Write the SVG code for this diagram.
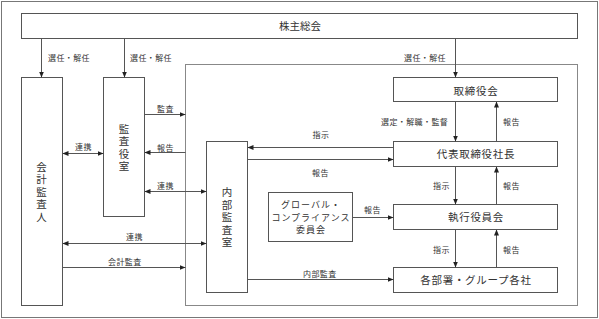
<svg xmlns="http://www.w3.org/2000/svg" width="599" height="319" viewBox="0 0 599 319">
<style>
.box{fill:#fff;stroke:#555;stroke-width:1}
.frame{fill:none;stroke:#777;stroke-width:1}
.inner{fill:none;stroke:#888;stroke-width:1}
.t{font-family:"Noto Sans CJK JP","Noto Sans CJK SC",sans-serif;fill:#333;font-size:10.5px;text-anchor:middle;letter-spacing:0.7px}
.v{font-family:"Noto Sans CJK JP","Noto Sans CJK SC",sans-serif;fill:#333;font-size:10.5px;text-anchor:middle;writing-mode:vertical-rl;letter-spacing:2px}
.s{font-family:"Noto Sans CJK JP","Noto Sans CJK SC",sans-serif;fill:#333;font-size:8px;letter-spacing:0.4px}
.g{font-family:"Noto Sans CJK JP","Noto Sans CJK SC",sans-serif;fill:#333;font-size:9px;text-anchor:middle;letter-spacing:1px}
.c line{stroke:#555;stroke-width:1;fill:none}
.a{marker-end:url(#ah)}
.d{marker-start:url(#ah);marker-end:url(#ah)}
</style>
<defs>
<marker id="ah" viewBox="0 0 6 6" refX="6" refY="3" markerWidth="6" markerHeight="6" markerUnits="userSpaceOnUse" orient="auto-start-reverse">
<path d="M0,0.5 L6,3 L0,5.5 z" fill="#222"/>
</marker>
</defs>
<rect width="599" height="319" fill="#fff"/>
<rect class="frame" x="1.5" y="1.5" width="596" height="316"/>
<rect class="inner" x="185.5" y="64.5" width="392" height="241"/>

<g id="kabunushi"><rect class="box" x="21.5" y="13.5" width="556" height="25"/><text class="t" x="300" y="30" style="letter-spacing:0">株主総会</text></g>
<g id="kaikei"><rect class="box" x="21.5" y="77.5" width="41" height="228"/>
<text class="v" x="41.5" y="192.7">会計監査人</text></g>
<g id="kansayaku"><rect class="box" x="103.5" y="77.5" width="41" height="139"/>
<text class="v" x="124" y="148.5">監査役室</text></g>
<g id="naibu"><rect class="box" x="206.5" y="141.5" width="41" height="151"/>
<text class="v" x="227" y="218.3">内部監査室</text></g>
<g id="gcc"><rect class="box" x="268.5" y="192.5" width="84" height="49"/>
<text class="g" x="311" y="208">グローバル・</text><text class="g" x="311" y="220.5">コンプライアンス</text><text class="g" x="311" y="233">委員会</text></g>
<g id="torishimariyaku"><rect class="box" x="393.5" y="77.5" width="164" height="24"/><text class="t" x="476" y="94.5">取締役会</text></g>
<g id="daihyo"><rect class="box" x="393.5" y="141.5" width="164" height="25"/><text class="t" x="476" y="158">代表取締役社長</text></g>
<g id="shikko"><rect class="box" x="393.5" y="204.5" width="164" height="25"/><text class="t" x="476" y="221">執行役員会</text></g>
<g id="kakubusho"><rect class="box" x="393.5" y="267.5" width="164" height="25"/><text class="t" x="476" y="284">各部署・グループ各社</text></g>

<g id="connectors" class="c">
<line class="a" x1="41.5" y1="38.5" x2="41.5" y2="77.5"/>
<line class="a" x1="124.5" y1="38.5" x2="124.5" y2="77.5"/>
<line class="a" x1="455.5" y1="38.5" x2="455.5" y2="77.5"/>
<line class="a" x1="455.5" y1="101.5" x2="455.5" y2="141.5"/>
<line class="a" x1="496.5" y1="141.5" x2="496.5" y2="101.5"/>
<line class="a" x1="455.5" y1="166.5" x2="455.5" y2="204.5"/>
<line class="a" x1="496.5" y1="204.5" x2="496.5" y2="166.5"/>
<line class="a" x1="455.5" y1="229.5" x2="455.5" y2="267.5"/>
<line class="a" x1="496.5" y1="267.5" x2="496.5" y2="229.5"/>
<line class="a" x1="352.5" y1="217.5" x2="393.5" y2="217.5"/>
<line class="a" x1="393.5" y1="147.5" x2="247.5" y2="147.5"/>
<line class="a" x1="247.5" y1="159.5" x2="393.5" y2="159.5"/>
<line class="a" x1="247.5" y1="279.5" x2="393.5" y2="279.5"/>
<line class="a" x1="144.5" y1="114.5" x2="185.5" y2="114.5"/>
<line class="a" x1="185.5" y1="152.5" x2="144.5" y2="152.5"/>
<line class="d" x1="144.5" y1="191.5" x2="206.5" y2="191.5"/>
<line class="d" x1="62.5" y1="153.5" x2="103.5" y2="153.5"/>
<line class="d" x1="62.5" y1="243.5" x2="206.5" y2="243.5"/>
<line class="a" x1="62.5" y1="267.5" x2="185.5" y2="267.5"/>
</g>

<g id="labels">
<text class="s" x="48" y="61">選任・解任</text>
<text class="s" x="130" y="61">選任・解任</text>
<text class="s" x="404" y="61">選任・解任</text>
<text class="s" x="381" y="124.5">選定・解職・監督</text>
<text class="s" x="503" y="124.5">報告</text>
<text class="s" x="433" y="189">指示</text>
<text class="s" x="503" y="189">報告</text>
<text class="s" x="433" y="253">指示</text>
<text class="s" x="503" y="253">報告</text>
<text class="s" x="364" y="213">報告</text>
<text class="s" x="312.5" y="138">指示</text>
<text class="s" x="312" y="176">報告</text>
<text class="s" x="303" y="277">内部監査</text>
<text class="s" x="157" y="112">監査</text>
<text class="s" x="157" y="150.5">報告</text>
<text class="s" x="157" y="188.5">連携</text>
<text class="s" x="75" y="150">連携</text>
<text class="s" x="126" y="239.5">連携</text>
<text class="s" x="108" y="264.5">会計監査</text>
</g>
</svg>
